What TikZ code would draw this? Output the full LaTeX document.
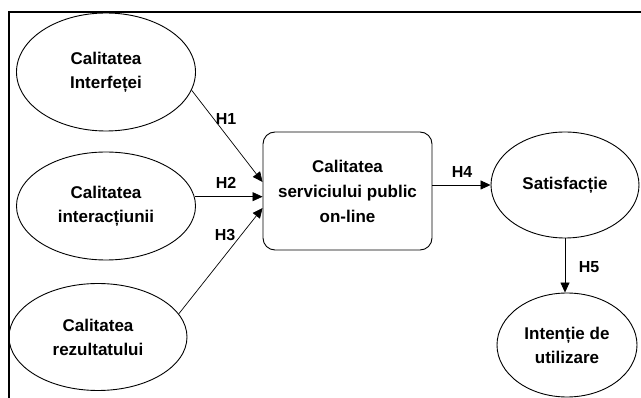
\documentclass[tikz,border=0pt]{standalone}
\usepackage{fontspec}
\setmainfont{Liberation Sans}
\usetikzlibrary{shapes.geometric,arrows.meta}
\begin{document}
\begin{tikzpicture}[x=1pt,y=-1pt,
  oval/.style={draw,ellipse,line width=0.9pt,inner sep=0pt,align=center,
    font=\fontsize{17}{24}\selectfont\bfseries},
  mainbox/.style={draw,rectangle,rounded corners=12pt,line width=0.9pt,inner sep=0pt,
    align=center,minimum width=169pt,minimum height=118pt,
    font=\fontsize{17}{25}\selectfont\bfseries},
  hlab/.style={inner sep=0pt,font=\fontsize{16}{18}\selectfont\bfseries},
  arr/.style={line width=0.7pt,-{Triangle[length=10pt,width=9pt]}}]
\useasboundingbox (0,0) rectangle (641,398);
\draw[line width=2pt] (9.3,400) -- (9.3,12) -- (643,12);
\node[oval,minimum width=179pt,minimum height=118pt] (e1) at (106,72) {Calitatea\\Interfeței};
\node[oval,minimum width=179pt,minimum height=108pt] (e2) at (106,206) {Calitatea\\interacțiunii};
\node[oval,minimum width=178pt,minimum height=107pt] (e3) at (98,337) {Calitatea\\rezultatului};
\node[mainbox] (svc) at (347.5,191) {Calitatea\\serviciului public\\on-line};
\node[oval,minimum width=148pt,minimum height=106pt] (sat) at (565,185) {Satisfacție};
\node[oval,minimum width=140pt,minimum height=104pt] (int) at (567,345) {Intenție de\\utilizare};
\coordinate (h1end) at ([yshift=9pt]svc.west);
\coordinate (h3end) at ([yshift=-17pt]svc.west);
\draw[arr] (e1.-12.5) -- (h1end);
\draw[arr] (e2.6) -- (e2.6 -| svc.west);
\draw[arr] (e3.16) -- (h3end);
\draw[arr] (sat.west -| svc.east) -- (sat.west);
\draw[arr] (sat.south) -- (sat.south |- int.north);
\node[hlab] (l1) at (226,119) {H1};
\node[hlab] (l2) at (226,183) {H2};
\node[hlab] (l3) at (225,235) {H3};
\node[hlab] (l4) at (462,172) {H4};
\node[hlab] (l5) at (589,267) {H5};
\end{tikzpicture}
\end{document}
